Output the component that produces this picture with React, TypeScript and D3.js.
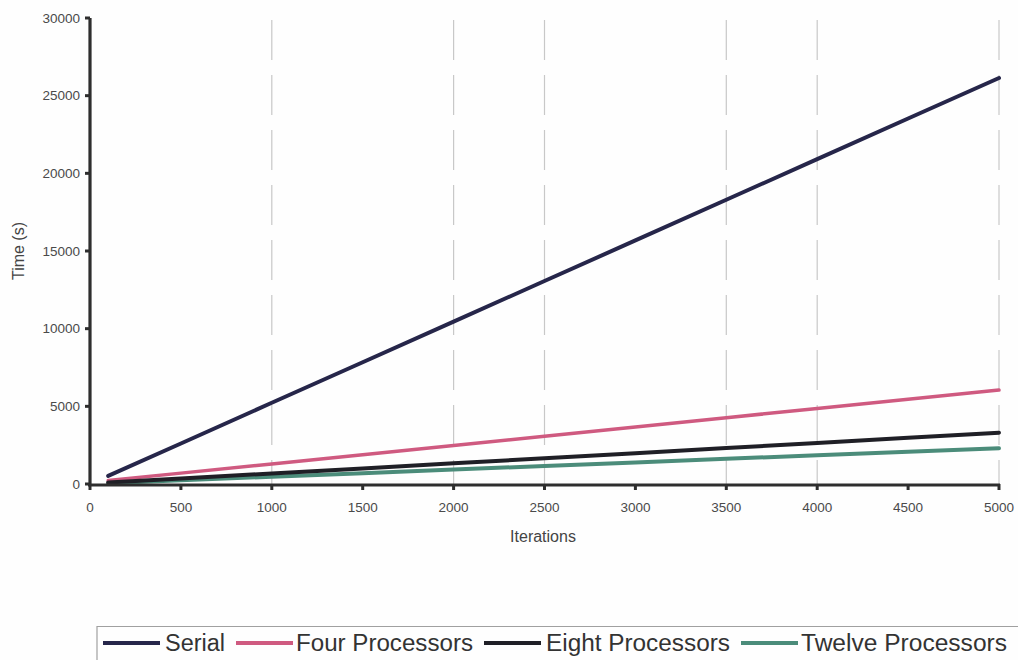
import React from "react";
import * as d3 from "d3";

// Iteration counts sampled for each run
const iterations = [100, 500, 1000, 1500, 2000, 2500, 3000, 3500, 4000, 4500, 5000];

// Wall-clock time in seconds
const serialTimes = [520, 2610, 5230, 7840, 10450, 13070, 15680, 18300, 20910, 23530, 26140];
const fourTimes = [220, 700, 1290, 1890, 2480, 3080, 3670, 4270, 4860, 5460, 6050];
const eightTimes = [90, 350, 680, 1000, 1330, 1660, 1980, 2310, 2640, 2970, 3300];
const twelveTimes = [50, 240, 470, 700, 930, 1160, 1390, 1620, 1850, 2080, 2300];

const seriesNames = ["Serial", "Four Processors", "Eight Processors", "Twelve Processors"];
const seriesColors = ["#26264a", "#cf5a80", "#1f1f26", "#4b8c7a"];
const seriesWidths = [4, 3.5, 4, 4];

const xTicks = [0, 500, 1000, 1500, 2000, 2500, 3000, 3500, 4000, 4500, 5000];
const yTicks = [0, 5000, 10000, 15000, 20000, 25000, 30000];
const gridTicks = [1000, 2000, 2500, 3500, 4000, 5000];

// Legend layout: swatch start, text start, text width
const legendSwatchX = [103, 236, 484, 741];
const legendTextX = [165, 296, 546, 801];
const legendTextW = [60, 177, 184, 206];

export default function App() {
  const W = 1018;
  const H = 660;
  const x = d3.scaleLinear().domain([0, 5000]).range([90, 999]);
  const y = d3.scaleLinear().domain([0, 30000]).range([484, 18]);

  const allSeries = [serialTimes, fourTimes, eightTimes, twelveTimes];
  const line = d3
    .line<number>()
    .x((_, i) => x(iterations[i]))
    .y((d) => y(d));

  const font = "'Liberation Sans', Arial, sans-serif";
  const axisColor = "#2e2e2e";

  return (
    <div style={{ position: "absolute", left: 0, top: 0 }}>
      <svg width={W} height={H} style={{ display: "block", background: "#fefefe" }}>
        {/* dashed vertical gridlines */}
        {gridTicks.map((t) => (
          <line
            key={"g" + t}
            x1={x(t)}
            x2={x(t)}
            y1={y(30000) + 2}
            y2={y(0)}
            stroke="#c8c8c8"
            strokeWidth={1.2}
            strokeDasharray="40 15"
          />
        ))}

        {/* series lines; twelve drawn first so the darker lines sit on top */}
        {[3, 1, 2, 0].map((si) => (
          <path
            key={seriesNames[si]}
            d={line(allSeries[si]) || ""}
            fill="none"
            stroke={seriesColors[si]}
            strokeWidth={seriesWidths[si]}
            strokeLinecap="round"
          />
        ))}

        {/* axes */}
        <line x1={x(0)} x2={x(0)} y1={y(30000)} y2={y(0) + 2} stroke={axisColor} strokeWidth={3.2} />
        <line x1={x(0) - 2} x2={x(5000) + 1} y1={y(0) + 1} y2={y(0) + 1} stroke={axisColor} strokeWidth={3.2} />

        {yTicks.map((t) => (
          <g key={"y" + t}>
            <line x1={x(0) - 5} x2={x(0)} y1={y(t)} y2={y(t)} stroke={axisColor} strokeWidth={3} />
            <text
              x={x(0) - 10}
              y={y(t)}
              dy="0.35em"
              textAnchor="end"
              fontFamily={font}
              fontSize={13.5}
              fill="#4a4a4a"
            >
              {t}
            </text>
          </g>
        ))}

        {xTicks.map((t) => (
          <g key={"x" + t}>
            <line x1={x(t)} x2={x(t)} y1={y(0)} y2={y(0) + 6} stroke={axisColor} strokeWidth={3} />
            <text
              x={x(t)}
              y={512}
              textAnchor="middle"
              fontFamily={font}
              fontSize={13.5}
              fill="#4a4a4a"
            >
              {t}
            </text>
          </g>
        ))}

        <text x={543} y={542} textAnchor="middle" fontFamily={font} fontSize={16} fill="#444">
          Iterations
        </text>
        <text
          transform={`translate(24, 251) rotate(-90)`}
          textAnchor="middle"
          fontFamily={font}
          fontSize={16}
          fill="#444"
        >
          Time (s)
        </text>

        {/* legend */}
        <path d={`M97,${H} V626.5 H${W}`} fill="none" stroke="#a0a0a0" strokeWidth={1.2} />
        {seriesNames.map((name, i) => (
          <g key={"l" + name}>
            <line
              x1={legendSwatchX[i]}
              x2={legendSwatchX[i] + 57}
              y1={643}
              y2={643}
              stroke={seriesColors[i]}
              strokeWidth={4}
            />
            <text
              x={legendTextX[i]}
              y={651}
              fontFamily="'Liberation Sans Narrow', 'Arial Narrow', 'Liberation Sans', sans-serif"
              fontSize={23}
              fill="#333"
              textLength={legendTextW[i]}
              lengthAdjust="spacingAndGlyphs"
            >
              {name}
            </text>
          </g>
        ))}
      </svg>
    </div>
  );
}
